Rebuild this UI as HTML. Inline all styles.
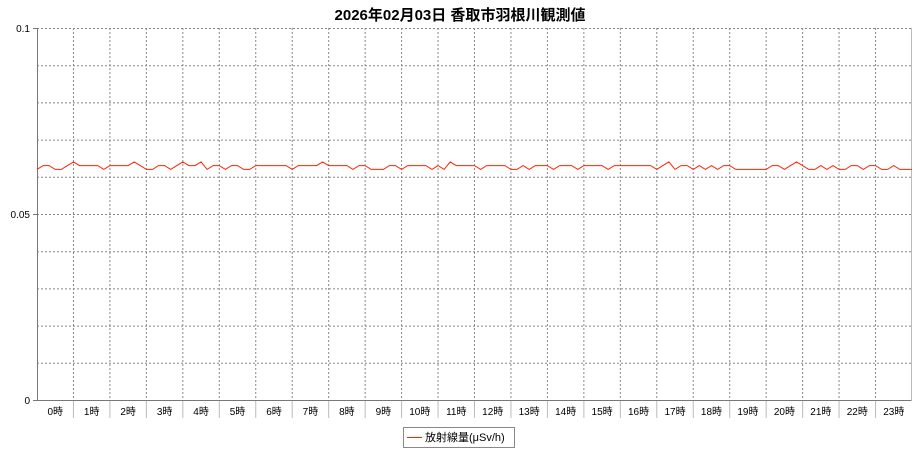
<!DOCTYPE html>
<html><head><meta charset="utf-8"><style>
body{margin:0;background:#fff;}
svg{display:block;font-family:"Liberation Sans","Noto Sans CJK JP",sans-serif;}
</style></head><body>
<svg width="920" height="450" xmlns="http://www.w3.org/2000/svg">
<text x="460" y="20" text-anchor="middle" font-size="15" font-weight="bold" fill="#000">2026年02月03日 香取市羽根川観測値</text>
<g stroke="#888" stroke-dasharray="2,2" stroke-width="1">
<line x1="37" y1="65.7" x2="912" y2="65.7"/><line x1="37" y1="102.9" x2="912" y2="102.9"/>
<line x1="37" y1="140.1" x2="912" y2="140.1"/><line x1="37" y1="177.3" x2="912" y2="177.3"/>
<line x1="37" y1="214.5" x2="912" y2="214.5"/><line x1="37" y1="251.7" x2="912" y2="251.7"/>
<line x1="37" y1="288.9" x2="912" y2="288.9"/><line x1="37" y1="326.1" x2="912" y2="326.1"/>
<line x1="37" y1="363.3" x2="912" y2="363.3"/><line x1="37" y1="28.5" x2="912" y2="28.5"/>
</g>
<g id="vg" stroke="#888" stroke-dasharray="2,2" stroke-width="1"></g>
<g id="ticks" stroke="#bbb" stroke-width="1"></g>
<line x1="37.5" y1="28" x2="37.5" y2="401" stroke="#777"/>
<line x1="37" y1="400.5" x2="912" y2="400.5" stroke="#777"/>
<line x1="911.5" y1="28" x2="911.5" y2="401" stroke="#bbb"/>
<g stroke="#777"><line x1="33" y1="28.5" x2="37" y2="28.5"/><line x1="33" y1="214.5" x2="37" y2="214.5"/><line x1="33" y1="400.5" x2="37" y2="400.5"/></g>
<g font-size="10" fill="#000" text-anchor="end">
<text x="30" y="32">0.1</text><text x="30" y="218">0.05</text><text x="30" y="404">0</text>
</g>
<g id="lbl" font-size="10" fill="#000" text-anchor="middle"></g>
<polyline id="ser" fill="none" stroke="#ff2200" stroke-width="1" points=""/>
<rect x="403.5" y="427.5" width="111" height="20" fill="#fff" stroke="#888"/>
<line x1="407" y1="437.5" x2="422" y2="437.5" stroke="#ff2200"/>
<text x="425" y="441" font-size="11" fill="#000">放射線量(μSv/h)</text>
<script>
var vg=document.getElementById('vg'),tk=document.getElementById('ticks'),lb=document.getElementById('lbl'),ns='http://www.w3.org/2000/svg';
var w=875/24;
for(var k=0;k<24;k++){var x=37+w*k;
 if(k>0){var l=document.createElementNS(ns,'line');l.setAttribute('x1',x);l.setAttribute('x2',x);l.setAttribute('y1',28);l.setAttribute('y2',400);vg.appendChild(l);
 var t=document.createElementNS(ns,'line');t.setAttribute('x1',x);t.setAttribute('x2',x);t.setAttribute('y1',401);t.setAttribute('y2',418);tk.appendChild(t);}
 var s=document.createElementNS(ns,'text');s.setAttribute('x',x+w/2);s.setAttribute('y',415);s.textContent=k+'時';lb.appendChild(s);}
var d="233223433332333343223323433423323322333333233334333323322233233332324333323333223233323332333323333333234233232323322222233234322323223323322322232332333222222333233232333333333";
var pts=[];for(var i=0;i<=144;i++){var v=0.06+0.001*parseInt(d[i%d.length]);var y=400-372*v/0.1;pts.push((37+875*i/144).toFixed(1)+','+y.toFixed(1));}
document.getElementById('ser').setAttribute('points',pts.join(' '));
</script>
</svg>
</body></html>
